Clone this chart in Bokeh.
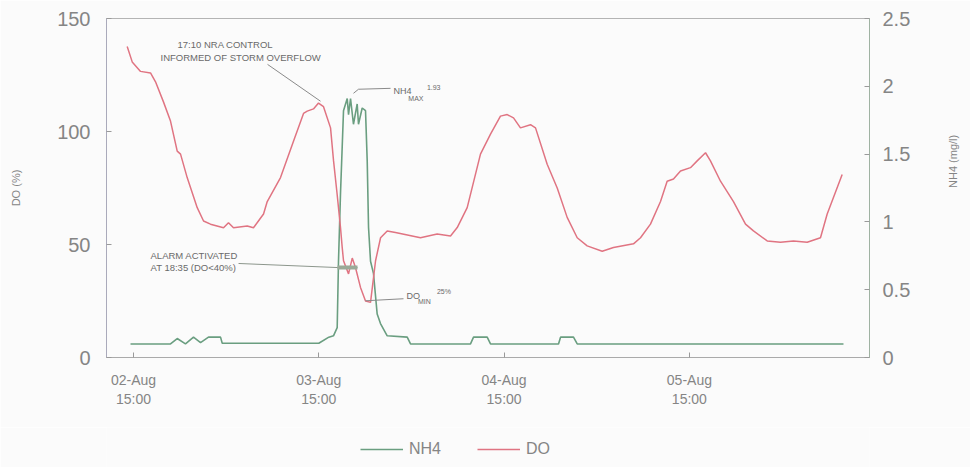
import math
import pandas as pd
from bokeh.plotting import figure
from bokeh.layouts import column
from bokeh.models import (LinearAxis, Range1d, FixedTicker, DatetimeTickFormatter,
                          NumeralTickFormatter, Legend, LegendItem)
from bokeh.core.properties import value
from bokeh.embed import file_html
from bokeh.resources import INLINE

# ---------------- data (hours after 02-Aug 15:00) ----------------
BASE = pd.Timestamp("1995-08-02 15:00")

do_hours = [-0.82, -0.17, 0.91, 2.20, 2.85, 3.89, 4.79, 5.66, 6.09, 6.96, 8.25, 9.07,
            9.97, 11.66, 12.30, 12.95, 14.73, 15.54, 16.84, 17.32, 19.04, 20.72, 22.02,
            22.50, 23.31, 23.96, 24.61, 25.52, 25.91, 26.38, 26.81, 27.03, 27.20, 27.85,
            28.33, 28.75, 29.40, 30.05, 30.70, 31.35, 32.00, 32.86, 33.93, 37.17, 39.33,
            41.06, 41.93, 43.22, 44.94, 46.24, 47.53, 48.40, 49.22, 50.12, 51.42, 52.07,
            53.58, 54.88, 56.17, 57.47, 58.76, 60.71, 62.17, 64.76, 65.67, 66.96, 68.26,
            69.12, 69.94, 70.85, 72.14, 73.01, 74.09, 74.73, 76.03, 77.71, 79.27, 80.30,
            82.08, 83.80, 85.48, 87.26, 88.98, 89.85, 91.79]
do_values = [137.6, 130.8, 126.6, 125.9, 122.0, 113.0, 104.6, 91.3, 90.0, 79.5, 66.3, 60.4,
             59.0, 57.4, 59.6, 57.4, 58.2, 57.4, 63.5, 69.0, 79.6, 95.7, 108.0,
             109.0, 110.0, 112.6, 111.0, 101.6, 87.0, 72.0, 57.5, 48.7, 42.8, 37.0,
             44.0, 39.8, 31.0, 25.0, 24.4, 42.8, 53.0, 56.0, 55.3, 53.0, 54.6,
             53.8, 57.5, 66.3, 90.0, 98.8, 106.8, 107.5, 106.0, 101.6, 103.0, 101.6,
             85.5, 75.0, 62.0, 53.0, 49.4, 47.0, 48.7, 50.3, 53.0, 59.0, 69.0,
             78.0, 79.0, 82.5, 84.0, 87.0, 90.6, 87.0, 78.0, 69.0, 59.0, 56.0,
             51.6, 51.0, 51.6, 51.0, 53.0, 63.5, 81.0]

nh4_hours = [-0.39, 4.79, 5.66, 6.73, 7.77, 8.68, 9.71, 11.27, 11.49, 24.0, 25.3, 25.9,
             26.38, 26.55, 26.81, 27.20, 27.68, 27.85, 28.11, 28.49, 28.97, 29.14, 29.62,
             30.05, 30.27, 30.44, 30.70, 31.08, 31.56, 31.99, 32.86, 35.45, 35.88, 43.65,
             44.04, 45.81, 46.24, 55.05, 55.31, 56.99, 57.47, 91.96]
nh4_values = [0.10, 0.10, 0.14, 0.10, 0.15, 0.11, 0.15, 0.15, 0.105, 0.105, 0.15, 0.16,
              0.22, 0.71, 1.21, 1.82, 1.91, 1.79, 1.91, 1.72, 1.87, 1.72, 1.84,
              1.82, 1.45, 0.96, 0.71, 0.62, 0.32, 0.25, 0.16, 0.15, 0.10, 0.10,
              0.15, 0.15, 0.10, 0.10, 0.15, 0.15, 0.10, 0.10]

tick_day_offsets = [0, 1, 2, 3]
do_ticks = [0, 50, 100, 150]
nh4_ticks = [0, 0.5, 1, 1.5, 2, 2.5]
legend_labels = ["NH4", "DO"]

# annotations: (hours, DO-scale value)
nra_lines = ["17:10 NRA CONTROL", "INFORMED OF STORM OVERFLOW"]
nra_text_h = [5.70, 3.50]
nra_text_y = [138.5, 132.8]
nra_leader_h = [17.36, 24.22]
nra_leader_y = [129.7, 113.4]

alarm_lines = ["ALARM ACTIVATED", "AT 18:35 (DO<40%)"]
alarm_text_h = [2.20, 2.20]
alarm_text_y = [45.0, 39.7]
alarm_leader_h = [13.60, 26.42, 29.01]
alarm_leader_y = [41.6, 39.8, 39.8]
alarm_bar_h = [26.42, 29.01]
alarm_bar_y = [39.8, 39.8]

nh4max_leader_h = [28.49, 29.14, 33.29]
nh4max_leader_y = [116.9, 118.7, 119.1]
nh4max_parts = ["NH4", "MAX", "1.93"]
nh4max_h = [33.68, 35.60, 38.0]
nh4max_y = [117.8, 114.6, 119.4]

domin_leader_h = [30.05, 34.97]
domin_leader_y = [25.1, 26.0]
domin_parts = ["DO", "MIN", "25%"]
domin_h = [35.36, 36.85, 39.3]
domin_y = [27.4, 24.7, 29.0]


def t(hours):
    return [BASE + pd.Timedelta(hours=h) for h in hours]


FONT = "Liberation Sans"
GREY = "#858585"
ANN = "#6a6a6a"
RED = "#e07482"
GREEN = "#6a9e80"
BG = "#fbfbfb"

x_start = BASE - pd.Timedelta(hours=3.5)
x_end = BASE + pd.Timedelta(hours=95.33)

p = figure(x_axis_type="datetime", frame_width=763, frame_height=339,
           min_border_left=106, min_border_right=101, min_border_top=18, min_border_bottom=70,
           x_range=Range1d(x_start, x_end),
           y_range=Range1d(0, 150), output_backend="svg", toolbar_location=None,
           background_fill_color=BG, border_fill_color=BG)
p.xgrid.visible = False
p.ygrid.visible = False
p.outline_line_color = "#b4b4b4"

p.extra_y_ranges = {"nh4": Range1d(0, 2.5)}
rax = LinearAxis(y_range_name="nh4", axis_label="NH4 (mg/l)",
                 ticker=FixedTicker(ticks=nh4_ticks),
                 formatter=NumeralTickFormatter(format="0.[0]"))
p.add_layout(rax, "right")

# series
r_nh4 = p.line(t(nh4_hours), nh4_values, y_range_name="nh4", line_color=GREEN, line_width=1.6)
r_do = p.line(t(do_hours), do_values, line_color=RED, line_width=1.5)

# axes styling
for ax in p.axis:
    ax.major_tick_in = 5
    ax.major_tick_out = 0
    ax.minor_tick_in = 0
    ax.minor_tick_out = 0
    ax.major_tick_line_color = "#9a9a9a"
    ax.major_label_text_color = GREY
    ax.major_label_text_font = FONT
    ax.axis_label_text_font = FONT
    ax.axis_label_text_color = GREY
    ax.axis_label_text_font_style = "normal"
    ax.axis_label_text_font_size = "11px"

lax = p.yaxis[0]
lax.ticker = FixedTicker(ticks=do_ticks)
lax.axis_label = "DO (%)"
lax.major_label_text_font_size = "20px"
lax.major_label_standoff = 16
lax.axis_label_standoff = 32
lax.axis_line_color = "#aaaabb"

rax.major_label_text_font_size = "20px"
rax.major_label_standoff = 13
rax.axis_label_standoff = 40
rax.axis_line_color = "#9fb2a2"
rax.axis_label_orientation = math.pi / 2

xax = p.xaxis[0]
xax.ticker = FixedTicker(ticks=[int((BASE + pd.Timedelta(days=d)).value // 10**6)
                                for d in tick_day_offsets])
fmt = "%d-%b\n%H:%M"
xax.formatter = DatetimeTickFormatter(microseconds=fmt, milliseconds=fmt, seconds=fmt,
                                      minsec=fmt, minutes=fmt, hourmin=fmt, hours=fmt,
                                      days=fmt, months=fmt, years=fmt)
xax.major_label_text_font_size = "14px"
xax.major_label_standoff = 14
xax.axis_line_color = "#aaaaaa"

# annotations
def leader(hs, ys, width=1.0, color="#8c968c"):
    p.line(t(hs), ys, line_color=color, line_width=width)

leader(nra_leader_h, nra_leader_y, color="#8a8a8a")
p.text(t(nra_text_h), nra_text_y, text=nra_lines, text_font=value(FONT),
       text_font_size="9.5px", text_color=ANN, text_align="left", text_baseline="middle")

leader(alarm_leader_h, alarm_leader_y)
leader(alarm_bar_h, alarm_bar_y, width=4, color="#9aaa98")
p.text(t(alarm_text_h), alarm_text_y, text=alarm_lines, text_font=value(FONT),
       text_font_size="9.5px", text_color=ANN, text_align="left", text_baseline="middle")

leader(nh4max_leader_h, nh4max_leader_y, color="#8a8a8a")
p.text(t(nh4max_h), nh4max_y, text=nh4max_parts, text_font=value(FONT),
       text_font_size=["9px", "7px", "7px"], text_color=ANN,
       text_align="left", text_baseline="middle")

leader(domin_leader_h, domin_leader_y, color="#8a8a8a")
p.text(t(domin_h), domin_y, text=domin_parts, text_font=value(FONT),
       text_font_size=["9px", "7px", "7px"], text_color=ANN,
       text_align="left", text_baseline="middle")

# legend strip below the chart (series re-drawn out of view, only their legend glyphs show)
lp = figure(x_axis_type="datetime", width=970, height=40, min_border=0,
            toolbar_location=None, output_backend="svg",
            x_range=Range1d(x_start, x_end), y_range=Range1d(1000, 1001),
            x_axis_location=None, y_axis_location=None,
            background_fill_color=BG, border_fill_color=BG)
lp.xgrid.visible = False
lp.ygrid.visible = False
lp.outline_line_color = None
k_nh4 = lp.line(t(nh4_hours), nh4_values, line_color=GREEN, line_width=1.6)
k_do = lp.line(t(do_hours), do_values, line_color=RED, line_width=1.5)
legend = Legend(items=[LegendItem(label=legend_labels[0], renderers=[k_nh4]),
                       LegendItem(label=legend_labels[1], renderers=[k_do])],
                orientation="horizontal", location=(254, 9),
                glyph_width=43, glyph_height=18, label_height=18, label_standoff=6,
                spacing=36, padding=0, margin=0,
                border_line_color=None, background_fill_alpha=0,
                label_text_font=FONT, label_text_font_size="16px",
                label_text_color=GREY)
lp.add_layout(legend)

layout = column(p, lp, spacing=0)
open("out.html", "w").write(file_html(layout, INLINE))
